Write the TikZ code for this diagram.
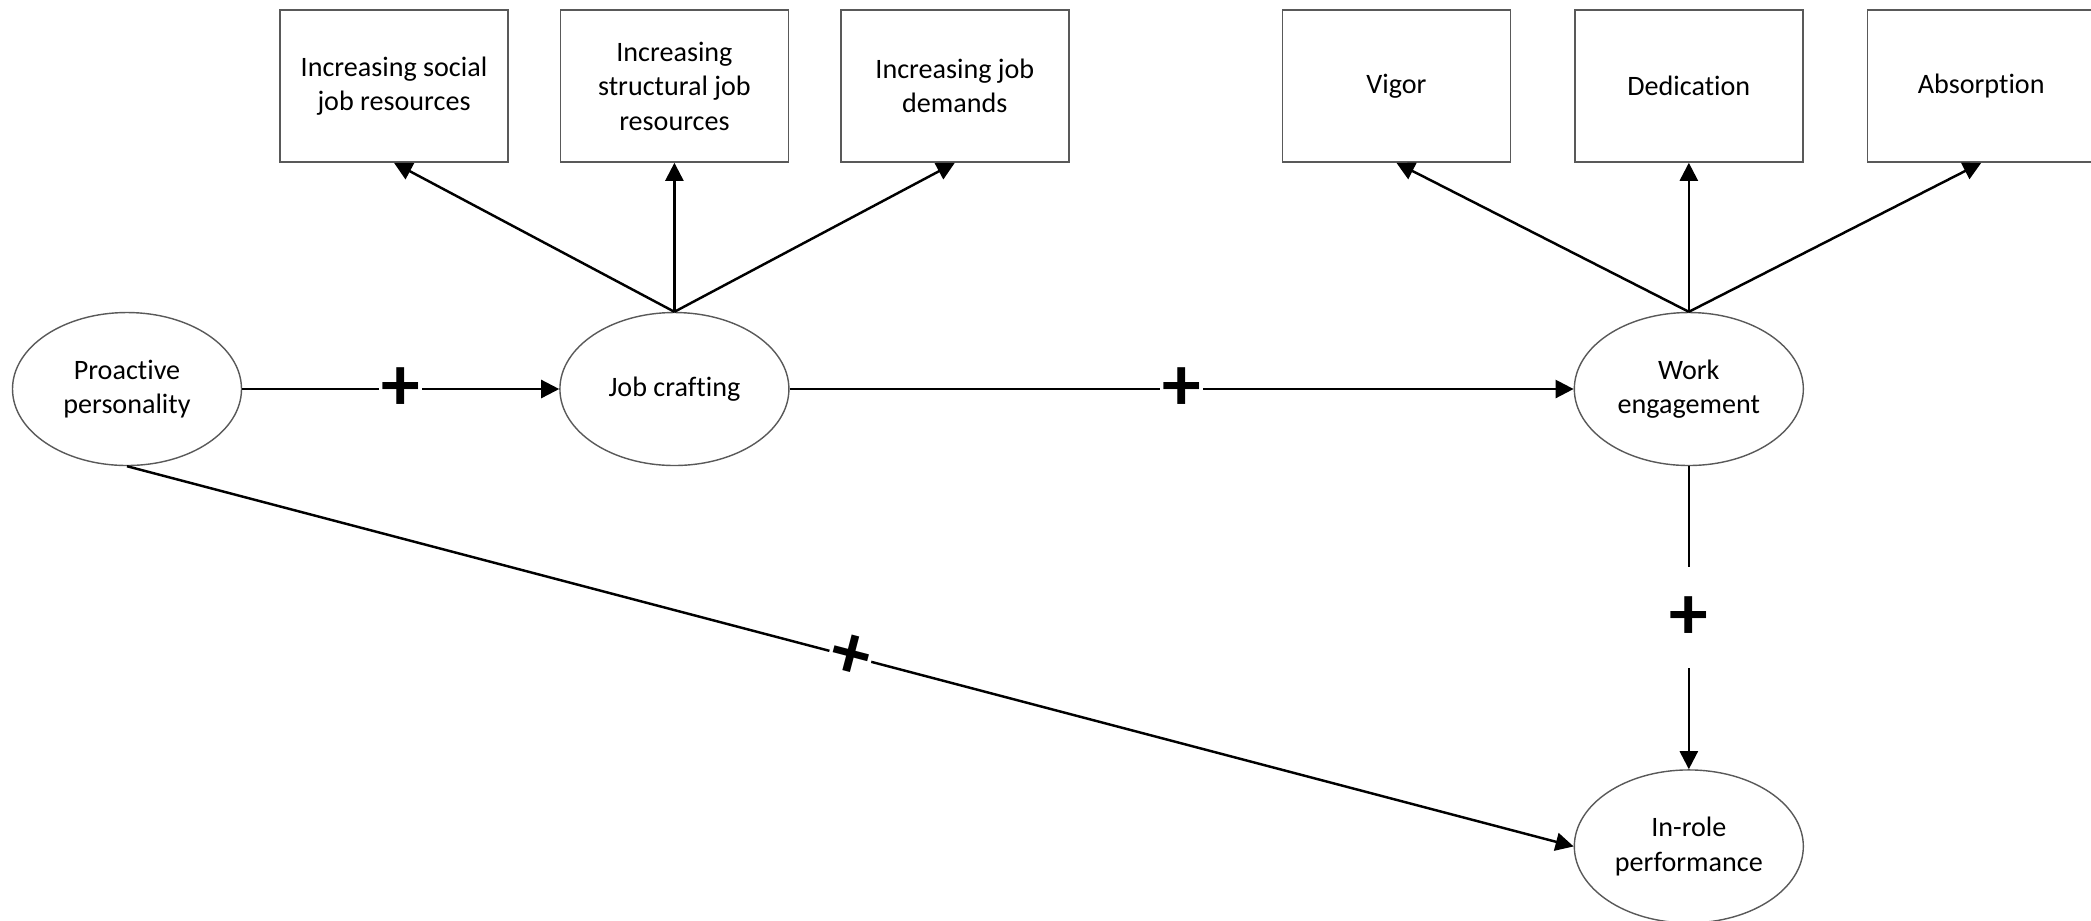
\documentclass[tikz,border=0pt]{standalone}
\usepackage{fontspec}
\setmainfont{Carlito}[Ligatures=NoCommon]
\usepackage{xcolor}
\usepackage{tikz}
\usetikzlibrary{shapes, arrows.meta, positioning, calc}

\begin{document}
\begin{tikzpicture}[node distance=2cm,
    latent/.style={ellipse, draw=black!65, thin, inner sep=0pt, align=center, minimum width=2.29cm, minimum height=1.53cm, font=\fontsize{8}{9.8}\selectfont},
    item/.style={rectangle, draw=black!65, thin, align=center, minimum width=2.28cm, minimum height=1.52cm, font=\fontsize{8}{9.8}\selectfont},
    link/.style={-{Triangle[length=0.18cm, width=0.18cm]}, line width=0.7pt},
    sign/.style={fill=white, inner sep=0pt, minimum width=0.43cm, minimum height=1.01cm, font=\fontsize{22}{22}\bfseries}]
    \useasboundingbox (0,0) rectangle (20.91,-9.20);

    \node [latent] (pro) at (1.27,-3.89) {Proactive\\personality};
    \node [latent, right=3.17cm of pro] (jc) {Job crafting};
    \node [latent, right=7.84cm of jc] (we) {Work\\engagement};
    \node [latent, below=3.03cm of we] (irp) {In-role\\performance};

    \node [item, above=1.49cm of jc] (str) {Increasing\\structural job\\resources};
    \node [item, left=0.51cm of str] (soc) {Increasing social\\job resources};
    \node [item, right=0.51cm of str] (dem) {Increasing job\\demands};
    \node [item, above=1.49cm of we] (ded) {Dedication};
    \node [item, left=0.63cm of ded] (vig) {Vigor};
    \node [item, right=0.63cm of ded] (abs) {Absorption};

    \draw [link] (jc.north) -- (soc.south);
    \draw [link] (jc.north) -- (str.south);
    \draw [link] (jc.north) -- (dem.south);
    \draw [link] (we.north) -- (vig.south);
    \draw [link] (we.north) -- (ded.south);
    \draw [link] (we.north) -- (abs.south);

    \draw [link] (pro) -- node [sign] {+} (jc);
    \draw [link] (jc) -- node [sign] {+} (we);
    \draw [link] (we) -- node [sign] {+} (irp);
    \draw [link] (pro.south) -- node [sign, sloped] {+} (irp.west);
\end{tikzpicture}
\end{document}
